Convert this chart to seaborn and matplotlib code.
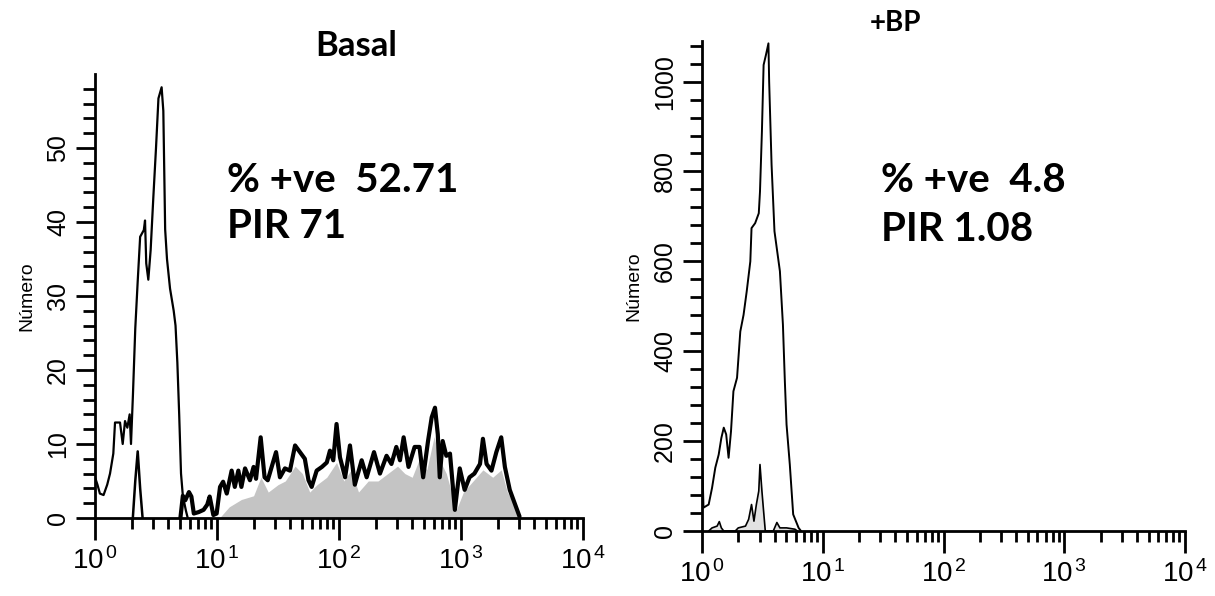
import numpy as np
import matplotlib
matplotlib.use("Agg")
import matplotlib.pyplot as plt
import seaborn as sns
from matplotlib import font_manager as fm
from matplotlib.ticker import FixedLocator, FixedFormatter, NullFormatter

# ---------------- data (log10 fluorescence, counts) ----------------
# Basal panel: control (open thin line)
basal_ctrl_log = [0.00, 0.02, 0.04, 0.07, 0.10, 0.123, 0.15, 0.164, 0.205, 0.227, 0.246, 0.265,
                  0.284, 0.295, 0.311, 0.33, 0.35, 0.37, 0.40, 0.41, 0.42, 0.437, 0.456, 0.478,
                  0.50, 0.52, 0.546, 0.56, 0.575, 0.59, 0.615, 0.645, 0.66, 0.675, 0.69, 0.705,
                  0.72, 0.745, 0.76]
basal_ctrl_count = [5.5, 4.5, 3.3, 3.1, 4.5, 6.0, 8.7, 12.9, 12.9, 10.0, 13.1, 12.2,
                    14.0, 10.0, 16.7, 25.6, 32.0, 38.0, 38.9, 40.2, 34.4, 32.2, 36.2, 43.3,
                    50.0, 56.7, 58.2, 55.0, 39.0, 35.0, 31.0, 28.0, 26.0, 21.0, 14.0, 6.0,
                    3.0, 1.0, 0.0]
# Basal panel: stained sample narrow spike near 10^0.35
basal_spike_log = [0.31, 0.33, 0.35, 0.37, 0.39]
basal_spike_count = [0.0, 5.0, 9.0, 4.0, 0.0]
# Basal panel: stained sample outline (bold)
basal_pos_log = [0.70, 0.72, 0.74, 0.77, 0.79, 0.81, 0.85, 0.89, 0.92, 0.94, 0.97, 0.997,
                 1.025, 1.05, 1.08, 1.12, 1.146, 1.175, 1.20, 1.23, 1.27, 1.30, 1.32, 1.358,
                 1.39, 1.416, 1.45, 1.484, 1.516, 1.557, 1.598, 1.64, 1.68, 1.72, 1.75, 1.776,
                 1.817, 1.86, 1.90, 1.926, 1.953, 1.98, 2.008, 2.05, 2.09, 2.13, 2.186, 2.227,
                 2.287, 2.336, 2.39, 2.43, 2.47, 2.50, 2.53, 2.57, 2.62, 2.66, 2.69, 2.73,
                 2.76, 2.787, 2.81, 2.826, 2.85, 2.88, 2.91, 2.95, 2.99, 3.03, 3.07, 3.11,
                 3.156, 3.18, 3.21, 3.25, 3.29, 3.33, 3.36, 3.40, 3.44, 3.48]
basal_pos_count = [0.0, 3.0, 2.4, 3.5, 2.9, 0.6, 0.8, 1.1, 1.8, 2.9, 0.4, 0.6,
                   4.2, 4.9, 3.3, 6.4, 4.2, 6.4, 4.2, 6.7, 5.1, 6.9, 5.3, 10.9,
                   5.5, 5.1, 7.0, 8.9, 5.5, 6.7, 6.4, 9.8, 8.9, 8.0, 5.1, 4.2,
                   6.4, 6.9, 7.5, 9.1, 7.8, 12.7, 8.2, 5.5, 9.8, 4.5, 7.8, 5.5,
                   8.9, 6.0, 8.4, 7.3, 9.6, 7.8, 10.9, 6.9, 9.6, 9.6, 5.5, 10.4,
                   13.6, 14.9, 11.3, 5.5, 10.4, 8.4, 8.7, 1.1, 6.7, 3.8, 5.5, 6.0,
                   7.3, 10.7, 7.3, 6.4, 8.9, 10.9, 6.9, 3.8, 2.0, 0.2]
# Basal panel: shaded (stippled) area
basal_fill_log = [1.02, 1.10, 1.20, 1.30, 1.36, 1.42, 1.50, 1.56, 1.64, 1.70, 1.76, 1.82,
                  1.90, 1.98, 2.04, 2.10, 2.16, 2.24, 2.32, 2.40, 2.48, 2.54, 2.60, 2.66,
                  2.72, 2.78, 2.82, 2.88, 2.93, 2.96, 3.02, 3.10, 3.18, 3.26, 3.33, 3.38,
                  3.44, 3.48]
basal_fill_count = [0.0, 1.5, 2.5, 3.0, 5.5, 3.5, 4.5, 5.0, 7.0, 6.0, 3.5, 4.5,
                    5.5, 7.5, 5.0, 6.5, 3.5, 5.0, 5.0, 6.0, 7.0, 6.0, 5.5, 8.0,
                    6.5, 11.0, 8.0, 6.0, 3.0, 1.0, 3.5, 5.0, 6.5, 5.5, 6.5, 3.5,
                    1.8, 0.0]

# +BP panel: control (open thin line)
bp_ctrl_log = [0.003, 0.012, 0.055, 0.083, 0.11, 0.138, 0.16, 0.18, 0.20, 0.22, 0.24, 0.26,
               0.29, 0.317, 0.344, 0.37, 0.40, 0.41, 0.44, 0.47, 0.48, 0.496, 0.51, 0.53,
               0.55, 0.556, 0.576, 0.60, 0.645, 0.67, 0.686, 0.70, 0.727, 0.755, 0.80, 0.82]
bp_ctrl_count = [150, 52, 59, 96, 141, 170, 207, 230, 215, 163, 222, 311,
                 341, 444, 481, 533, 600, 674, 685, 707, 755, 889, 1037, 1060,
                 1085, 1000, 815, 667, 578, 459, 333, 237, 148, 37, 7, 0]
# +BP panel: stained sample
bp_pos_log = [0.055, 0.083, 0.125, 0.143, 0.16, 0.18, 0.275, 0.30, 0.36, 0.386, 0.41, 0.43,
              0.45, 0.47, 0.48, 0.496, 0.51, 0.524, 0.59, 0.62, 0.645, 0.70, 0.77, 0.79]
bp_pos_count = [0, 7, 11, 21, 7, 0, 0, 7, 11, 26, 59, 22,
                59, 89, 148, 89, 44, 0, 0, 19, 7, 7, 4, 0]

decade_labels = ["10$^{\\,0}$", "10$^{\\,1}$", "10$^{\\,2}$", "10$^{\\,3}$", "10$^{\\,4}$"]
basal_yticks = [0, 10, 20, 30, 40, 50]
bp_yticks = [0, 200, 400, 600, 800, 1000]

# ---------------- style ----------------
sns.set_style("ticks")
names = {f.name for f in fm.fontManager.ttflist}
tick_font = "Liberation Sans Narrow" if "Liberation Sans Narrow" in names else "Liberation Sans"
plt.rcParams["font.family"] = [tick_font, "DejaVu Sans"]
plt.rcParams["mathtext.fontset"] = "custom"
plt.rcParams["mathtext.rm"] = tick_font
plt.rcParams["mathtext.it"] = tick_font
plt.rcParams["mathtext.bf"] = tick_font
plt.rcParams["text.color"] = "black"
plt.rcParams["axes.labelcolor"] = "black"
plt.rcParams["xtick.color"] = "black"
plt.rcParams["ytick.color"] = "black"
plt.rcParams["axes.edgecolor"] = "black"

fig = plt.figure(figsize=(12.15, 5.96), dpi=100)
ax1 = fig.add_axes([0.0782, 0.1309, 0.4016, 0.745])
ax2 = fig.add_axes([0.5778, 0.109, 0.3975, 0.822])

def tolin(v):
    return np.power(10.0, np.asarray(v, dtype=float))

# Basal panel
ax1.fill_between(tolin(basal_fill_log), basal_fill_count, 0, color="#c4c4c4", lw=0, zorder=1)
sns.lineplot(x=tolin(basal_ctrl_log), y=basal_ctrl_count, ax=ax1, color="black", lw=1.6,
             estimator=None, sort=False, zorder=3)
sns.lineplot(x=tolin(basal_spike_log), y=basal_spike_count, ax=ax1, color="black", lw=1.8,
             estimator=None, sort=False, zorder=3)
sns.lineplot(x=tolin(basal_pos_log), y=basal_pos_count, ax=ax1, color="black", lw=3.0,
             estimator=None, sort=False, zorder=3)

# +BP panel
ax2.fill_between(tolin(bp_pos_log), bp_pos_count, 0, color="#e2e2e2", lw=0, zorder=1)
sns.lineplot(x=tolin(bp_ctrl_log), y=bp_ctrl_count, ax=ax2, color="black", lw=1.4,
             estimator=None, sort=False, zorder=3)
sns.lineplot(x=tolin(bp_pos_log), y=bp_pos_count, ax=ax2, color="black", lw=1.2,
             estimator=None, sort=False, zorder=3)

minor_x = [m * 10 ** d for d in range(4) for m in range(2, 10)]
for ax, ymax, yt, ystep in [(ax1, 60, basal_yticks, 2), (ax2, 1090, bp_yticks, 40)]:
    ax.set_xscale("log")
    ax.set_xlim(1, 1e4)
    ax.set_ylim(0, ymax)
    sns.despine(ax=ax)
    for s in ("left", "bottom"):
        ax.spines[s].set_linewidth(2.0)
    ax.xaxis.set_major_locator(FixedLocator([1, 10, 100, 1000, 10000]))
    ax.xaxis.set_major_formatter(FixedFormatter(decade_labels))
    ax.xaxis.set_minor_locator(FixedLocator(minor_x))
    ax.xaxis.set_minor_formatter(NullFormatter())
    ax.yaxis.set_major_locator(FixedLocator(yt))
    ax.yaxis.set_minor_locator(FixedLocator(list(np.arange(0, ymax, ystep))))
    ax.tick_params(axis="x", which="major", direction="out", length=16, width=2.0,
                   labelsize=20, pad=5)
    ax.tick_params(axis="x", which="minor", direction="out", length=8, width=2.0)
    ax.tick_params(axis="y", which="major", direction="out", length=14, width=2.0,
                   labelsize=18, pad=4)
    ax.tick_params(axis="y", which="minor", direction="out", length=9, width=2.0)
    for lab in ax.get_yticklabels():
        lab.set_rotation(90)
        lab.set_va("center")
    ax.set_ylabel("Número", fontsize=14, labelpad=8, family=["Liberation Sans", "DejaVu Sans"])
    ax.set_xlabel("")

bold = ["Lato", "DejaVu Sans"]
fig.text(0.293, 0.922, "Basal", fontsize=25, fontweight="bold", family=bold,
         ha="center", va="center")
fig.text(0.737, 0.962, "+BP", fontsize=20, fontweight="bold", family=bold,
         ha="center", va="center")
fig.text(0.187, 0.697, "% +ve  52.71", fontsize=29, fontweight="bold", family=bold,
         ha="left", va="center")
fig.text(0.187, 0.620, "PIR 71", fontsize=29, fontweight="bold", family=bold,
         ha="left", va="center")
fig.text(0.725, 0.697, "% +ve  4.8", fontsize=29, fontweight="bold", family=bold,
         ha="left", va="center")
fig.text(0.725, 0.615, "PIR 1.08", fontsize=29, fontweight="bold", family=bold,
         ha="left", va="center")

fig.savefig("out.png", dpi=100)
